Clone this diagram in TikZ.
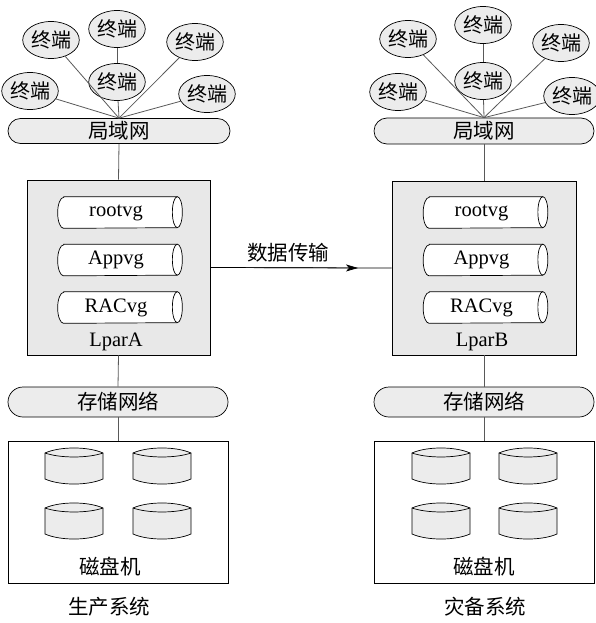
\documentclass[tikz,border=0pt]{standalone}
\usepackage{fontspec}
\setmainfont{Liberation Serif}
\newfontfamily\cjk{Noto Sans CJK SC}
\usetikzlibrary{shapes.geometric,shapes.misc,arrows.meta}
\tikzset{
  term/.style={ellipse,draw=black,fill=gray!15,minimum width=49pt,minimum height=37pt,inner sep=0pt,font=\cjk\fontsize{20}{20}\selectfont},
  net/.style={rounded rectangle,draw=black,fill=gray!15,inner sep=0pt,font=\cjk\fontsize{20.5}{20.5}\selectfont},
  lpar/.style={rectangle,draw=black,fill=gray!18,minimum width=183pt,minimum height=175pt,inner sep=0pt},
  vg/.style={rectangle,draw=none,minimum width=124pt,minimum height=31pt,inner sep=0pt,font=\fontsize{20}{20}\selectfont},
  diskbox/.style={rectangle,draw=black,fill=white,minimum width=220pt,minimum height=142pt,inner sep=0pt},
  link/.style={draw=gray!70!black,line width=0.8pt},
  cjklbl/.style={inner sep=0pt,font=\cjk\fontsize{20.5}{20.5}\selectfont},
  latlbl/.style={inner sep=0pt,font=\fontsize{20.5}{20.5}\selectfont},
  disk/.pic={
    \filldraw[draw=black,fill=gray!15] (0,0) .. controls (15,-6.7) and (43,-6.7) .. (58,0) -- (58,26) .. controls (43,32.7) and (15,32.7) .. (0,26) -- cycle;
    \draw (0,0) .. controls (15,5.3) and (43,5.3) .. (58,0);
  }
}
\newcommand{\vgoutline}[1]{%
  \filldraw[draw=black,fill=white] ([xshift=6pt]#1.north west) -- ([xshift=-5pt]#1.north east)
    arc[start angle=90,end angle=-90,x radius=5pt,y radius=15.5pt]
    -- ([xshift=6pt]#1.south west)
    arc[start angle=270,end angle=90,x radius=6pt,y radius=15.5pt] -- cycle;
  \draw ([xshift=-5pt]#1.north east) arc[start angle=90,end angle=270,x radius=5pt,y radius=15.5pt];
}
\newcommand{\vgnode}[3]{% name, position, text
  \node[vg] (#1) at #2 {};
  \vgoutline{#1}
  \node[latlbl] (#1t) at ([xshift=-4pt]#1.center) {#3};
}
\begin{document}
\begin{tikzpicture}[x=1pt,y=-1pt,line width=0.7pt]
\useasboundingbox (0,0) rectangle (595,623);
% ---------- left system ----------
\node[net,minimum width=222pt,minimum height=25pt] (lanA) at (119,131) {局域网};
\node[term] (ta1) at (51,40) {终端};
\node[term] (ta2) at (117,29) {终端};
\node[term] (ta3) at (195,42) {终端};
\node[term] (ta4) at (30,91) {终端};
\node[term] (ta5) at (117,82) {终端};
\node[term] (ta6) at (207,94) {终端};
\foreach \t in {ta1,ta3,ta4,ta5,ta6} \draw[link] (\t) -- (lanA.north);
\draw[link] (ta2) -- (ta5);

\node[lpar] (boxA) at (118.5,267.5) {};
\vgnode{rootA}{(120,212.5)}{rootvg}
\vgnode{appA}{(120,260)}{Appvg}
\vgnode{racA}{(120,307.5)}{RACvg}
\node[latlbl] (lblA) at (116,342) {LparA};
\draw[link] (lanA.south) -- (boxA.north);

\node[net,minimum width=220pt,minimum height=30pt] (sanA) at (118,402) {存储网络};
\draw[link] (boxA.south) -- (sanA.north);
\node[diskbox] (dbA) at (118,512) {};
\draw[link] (sanA.south) -- (dbA.north);
\pic at (45,453) {disk};
\pic at (133,453) {disk};
\pic at (45,508) {disk};
\pic at (133,508) {disk};
\node[cjklbl] (dmA) at (110,567) {磁盘机};
\node[cjklbl] (sysA) at (109,607) {生产系统};

% ---------- right system ----------
\node[net,minimum width=220pt,minimum height=26pt] (lanB) at (484,131) {局域网};
\node[term] (tb1) at (408,39) {终端};
\node[term] (tb2) at (483,25) {终端};
\node[term] (tb3) at (561,43) {终端};
\node[term] (tb4) at (398,92) {终端};
\node[term] (tb5) at (483,81) {终端};
\node[term] (tb6) at (572,96) {终端};
\foreach \t in {tb1,tb3,tb4,tb5,tb6} \draw[link] (\t) -- (lanB.north);
\draw[link] (tb2) -- (tb5);

\node[lpar,minimum width=184pt,minimum height=174pt] (boxB) at (484,268) {};
\vgnode{rootB}{(485.5,212.5)}{rootvg}
\vgnode{appB}{(485.5,260)}{Appvg}
\vgnode{racB}{(485.5,307.5)}{RACvg}
\node[latlbl] (lblB) at (482,342) {LparB};
\draw[link] (lanB.south) -- (boxB.north);

\node[net,minimum width=220pt,minimum height=30pt] (sanB) at (484,402) {存储网络};
\draw[link] (boxB.south) -- (sanB.north);
\node[diskbox] (dbB) at (484,512) {};
\draw[link] (sanB.south) -- (dbB.north);
\pic at (412,453) {disk};
\pic at (499,453) {disk};
\pic at (412,508) {disk};
\pic at (499,508) {disk};
\node[cjklbl] (dmB) at (484,567) {磁盘机};
\node[cjklbl] (sysB) at (485,607) {灾备系统};

% ---------- data transfer ----------
\coordinate (tip) at (358,268);
\draw[black] (boxA.east) -- (boxB.west);
\draw[black,-{Stealth[length=12pt,width=7pt,inset=3pt]}] (boxA.east) -- (tip);
\node[cjklbl] (xfer) at (288,253) {数据传输};
\end{tikzpicture}
\end{document}
